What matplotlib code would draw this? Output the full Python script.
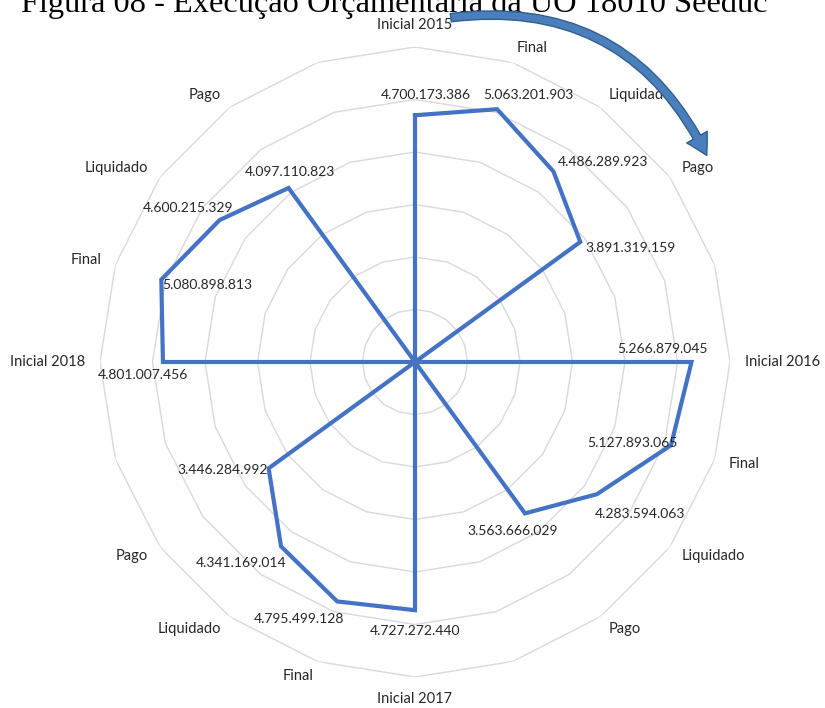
import numpy as np
import matplotlib
matplotlib.use("Agg")
import matplotlib.pyplot as plt
from matplotlib.patches import FancyArrowPatch

# Budget execution by stage, one empty slot between years
categories = ["Inicial 2015", "Final", "Liquidado", "Pago", "",
              "Inicial 2016", "Final", "Liquidado", "Pago", "",
              "Inicial 2017", "Final", "Liquidado", "Pago", "",
              "Inicial 2018", "Final", "Liquidado", "Pago", ""]
values_2015 = [4700173386, 5063201903, 4486289923, 3891319159, 0]
values_2016 = [5266879045, 5127893065, 4283594063, 3563666029, 0]
values_2017 = [4727272440, 4795499128, 4341169014, 3446284992, 0]
values_2018 = [4801007456, 5080898813, 4600215329, 4097110823, 0]
values = values_2015 + values_2016 + values_2017 + values_2018

axis_max = 6e9
axis_step = 1e9

# label offsets (pixels, x right / y down) relative to each point
label_offsets = [(11, -20), (31, -14), (50, -9), (50, 6), None,
                 (-29, -13), (-39, -2), (43, 20), (-12, 18), None,
                 (0, 21), (-38, 18), (-40, 17), (-46, 2), None,
                 (-20, 13), (46, 5), (-32, -12), (1, -16), None]

W, H = 825, 708
fig = plt.figure(figsize=(W / 100, H / 100), dpi=100)
fig.patch.set_facecolor("white")

cx, cy, R = 415, 362, 315
ax = fig.add_axes([(cx - R) / W, (H - cy - R) / H, 2 * R / W, 2 * R / H],
                  projection="polar")
ax.set_theta_zero_location("N")
ax.set_theta_direction(-1)
ax.set_ylim(0, axis_max)
ax.grid(False)
ax.set_xticks([])
ax.set_yticks([])
ax.spines["polar"].set_visible(False)
ax.patch.set_alpha(0)

n = len(categories)
theta = np.arange(n) * 2 * np.pi / n
theta_c = np.append(theta, theta[0])

# polygonal rings
for k in np.arange(axis_step, axis_max + 1, axis_step):
    ax.plot(theta_c, [k] * (n + 1), color="#d9d9d9", lw=1.0, zorder=1)

ax.plot(theta_c, values + values[:1], color="#4472c4", lw=3.0,
        solid_joinstyle="miter", zorder=3)

txt_color = "#262626"
font = ["Lato", "DejaVu Sans"]

# data labels
for t, v, off in zip(theta, values, label_offsets):
    if off is None:
        continue
    s = f"{v:,}".replace(",", ".")
    ax.annotate(s, xy=(t, v), xytext=(off[0], -off[1]),
                textcoords="offset pixels", ha="center", va="center",
                fontsize=10, color=txt_color, family=font, zorder=4)

# category labels
r_lab = axis_max * 330 / 315
for t, c in zip(theta, categories):
    if not c:
        continue
    deg = np.degrees(t) % 360
    if np.isclose(deg, 0):
        ha, va = "center", "bottom"
    elif np.isclose(deg, 180):
        ha, va = "center", "top"
    elif deg < 180:
        ha, va = "left", "center"
    else:
        ha, va = "right", "center"
    ax.text(t, r_lab, c, ha=ha, va=va, fontsize=10.5, color=txt_color,
            family=font, clip_on=False)

# overlay in pixel coordinates for the title and arrow
ov = fig.add_axes([0, 0, 1, 1])
ov.set_xlim(0, W)
ov.set_ylim(H, 0)
ov.axis("off")
ov.patch.set_alpha(0)

ov.text(394, 12, "Figura 08 - Execução Orçamentária da UO 18010 Seeduc",
        ha="center", va="baseline", fontsize=23.3, family="Liberation Serif",
        color="black", clip_on=False)

arrow = FancyArrowPatch((448, 18), (708, 158),
                        connectionstyle="arc3,rad=-0.36",
                        arrowstyle="simple,head_width=17,head_length=15,tail_width=6",
                        facecolor="#4a7fbc", edgecolor="#30608f", lw=1.0,
                        mutation_scale=1, zorder=5)
ov.add_patch(arrow)

fig.savefig("out.png", dpi=100, facecolor="white")
